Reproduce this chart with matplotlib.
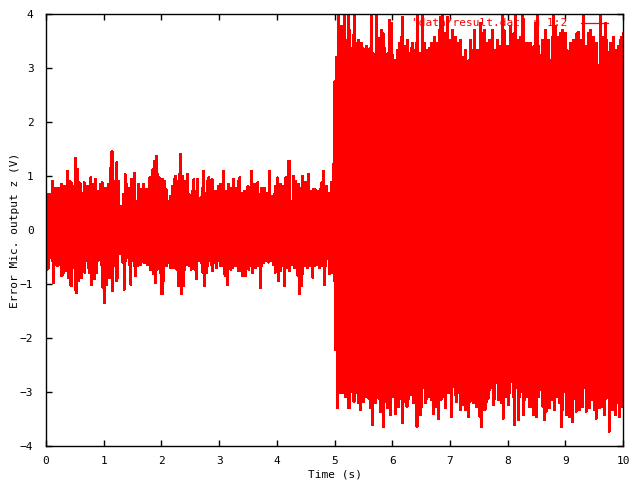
import numpy as np
import matplotlib
matplotlib.use('Agg')
import matplotlib.pyplot as plt

# envelope of the signal (volts), before the step at t = 5 s
upper_before = [0.66,0.66,0.66,0.66,0.91,0.78,0.78,0.78,0.78,0.85,0.75,0.81,0.72,1.09,0.91,0.88,0.81,0.78,1.34,1.12,
                0.88,0.85,0.69,0.88,0.72,0.81,0.72,0.97,0.66,0.85,0.94,0.72,0.60,0.85,0.88,0.66,0.78,0.72,0.85,1.15,
                1.46,0.85,0.91,1.25,0.91,0.44,0.41,0.66,1.03,0.85,0.78,0.75,0.94,0.66,1.06,0.54,0.85,0.72,0.75,0.85,
                0.35,0.75,0.57,0.97,0.60,1.12,1.28,1.37,1.03,0.97,0.72,0.94,0.91,0.75,0.54,0.51,0.63,0.81,0.94,1.00,
                0.91,1.03,1.40,1.00,0.69,0.91,1.03,0.66,0.63,0.72,0.94,0.72,0.94,0.51,0.60,0.78,1.09,0.69,0.91,0.97,
                0.78,0.94,0.51,0.72,0.57,0.81,0.85,0.69,1.09,0.72,0.60,0.85,0.63,0.78,0.94,0.60,0.78,0.91,0.97,0.69,
                0.51,0.72,0.69,0.81,0.66,1.09,0.69,0.85,0.85,0.88,0.66,0.78,0.72,0.78,0.69,0.48,1.09,0.63,0.57,0.66,
                0.81,0.97,0.66,0.85,0.81,0.54,0.97,0.78,1.28,0.32,0.54,1.00,0.91,0.78,0.85,0.78,1.00,0.57,0.88,0.72,
                1.03,0.72,0.54,0.75,0.75,0.63,0.72,0.75,0.88,1.09,0.72,0.81,0.69,0.63,0.88,1.22]
lower_before = [-0.73,-0.70,-0.51,-0.57,-0.98,-0.64,-0.67,-0.64,-0.48,-0.85,-0.79,-0.70,-0.76,-0.88,-1.01,-1.04,-0.70,-1.10,-1.16,-0.94,
                -0.76,-0.88,-0.64,-0.79,-0.57,-0.70,-0.79,-1.01,-0.70,-0.91,-0.79,-0.57,-0.54,-0.64,-1.07,-1.35,-1.01,-0.73,-0.88,-0.82,
                -1.13,-0.67,-0.94,-0.88,-0.45,-0.36,-0.60,-1.10,-0.57,-0.51,-0.64,-1.01,-0.57,-0.67,-0.85,-0.67,-0.51,-0.64,-0.48,-0.60,
                -0.60,-0.64,-0.45,-0.73,-0.51,-0.82,-0.98,-0.73,-0.70,-0.79,-1.19,-0.94,-0.54,-0.67,-0.60,-0.70,-0.67,-0.70,-0.67,-0.73,
                -1.04,-0.88,-1.19,-1.04,-0.73,-0.64,-0.54,-0.67,-0.73,-0.64,-0.73,-0.91,-0.54,-0.57,-0.60,-0.79,-1.04,-0.79,-0.67,-0.57,
                -0.64,-0.76,-0.60,-0.70,-0.54,-0.57,-0.67,-0.48,-0.82,-0.85,-1.01,-0.60,-0.73,-0.70,-0.60,-0.67,-0.64,-0.76,-0.57,-0.85,
                -0.64,-0.85,-0.54,-0.73,-0.67,-0.79,-0.60,-0.70,-0.64,-0.67,-1.07,-0.67,-0.60,-0.57,-0.54,-0.60,-0.51,-0.57,-0.64,-0.79,
                -0.76,-0.94,-0.76,-0.64,-0.67,-1.04,-0.70,-0.57,-0.76,-0.64,-0.51,-0.70,-0.70,-0.85,-1.19,-1.04,-0.82,-0.67,-0.54,-0.70,
                -0.67,-0.60,-0.88,-0.67,-0.51,-0.64,-0.70,-0.67,-0.60,-1.01,-0.67,-0.54,-0.82,-0.70,-0.79,-0.94]

# after the step (t = 5..10 s), values above 4 are clipped by the axis
upper_after = [2.75,
               3.21,4.1,3.21,3.77,3.46,4.1,3.52,4.1,3.70,3.36,3.61,4.1,3.46,3.52,3.36,3.46,3.36,3.30,3.40,2.96,
               3.36,4.1,3.27,2.96,4.1,3.40,3.55,3.70,3.64,3.36,3.21,3.27,3.89,3.83,3.24,3.15,3.12,3.33,3.46,3.58,
               3.95,3.40,2.99,3.52,3.27,3.36,3.46,3.33,3.46,4.1,3.27,3.09,4.1,3.46,2.96,3.33,3.36,
               3.46,3.27,3.58,3.18,3.46,3.70,3.95,4.1,3.64,3.46,3.95,3.27,3.52,3.70,3.40,3.58,3.46,3.15,3.52,3.21,
               2.90,3.33,3.12,3.15,3.52,3.33,3.70,3.12,3.33,3.21,3.83,3.64,3.70,3.15,3.46,3.52,3.27,3.70,3.33,3.21,
               3.52,3.15,3.40,4.1,3.70,3.27,3.40,3.09,3.77,3.58,3.64,4.1,3.27,3.52,3.58,4.1,3.89,3.46,3.15,3.46,
               3.46,3.06,3.40,3.83,4.1,3.40,3.24,3.52,3.46,3.70,3.40,3.52,3.15,3.58,4.1,3.77,3.27,3.58,3.64,3.70,
               3.58,3.64,3.33,3.30,3.46,3.27,3.52,3.15,3.64,3.67,3.52,3.30,4.1,3.40,3.27,3.64,3.70,3.52,3.58,3.46,
               3.46,3.06,4.1,3.46,3.58,3.83,3.52,3.30,3.46,2.93,3.58,3.33,3.18,3.40,3.52,3.58,3.64]
lower_after = [-2.22,
               -3.30,-2.56,-3.02,-2.90,-3.02,-3.09,-2.96,-3.30,-2.99,-2.96,-3.18,-3.02,-2.93,-3.21,-3.33,-3.09,-3.18,-3.09,-2.93,-3.12,
               -3.30,-3.61,-2.93,-3.21,-3.09,-3.12,-3.36,-3.33,-3.64,-3.18,-3.30,-3.09,-3.43,-3.09,-2.96,-3.40,-3.21,-3.27,-3.12,-3.58,
               -3.18,-3.12,-3.27,-3.12,-3.06,-2.84,-3.21,-3.15,-3.64,-3.09,-3.43,-3.27,-2.93,-3.21,-3.12,-3.09,-2.96,
               -3.15,-3.40,-3.27,-2.93,-3.49,-3.15,-3.12,-3.09,-3.30,-2.90,-3.02,-2.93,-3.46,-2.90,-3.06,-3.18,-3.02,-3.33,-3.18,-3.24,
               -3.33,-3.09,-3.46,-3.18,-3.02,-3.21,-3.12,-3.27,-3.15,-3.46,-3.64,-3.09,-3.33,-3.18,-3.12,-2.96,-2.93,-3.24,-3.12,-2.84,
               -3.15,-3.12,-3.21,-3.49,-2.90,-3.09,-3.24,-3.02,-2.81,-3.09,-3.61,-2.93,-3.52,-3.09,-2.99,-3.43,-3.15,-3.09,-2.99,-3.27,
               -3.27,-3.43,-3.12,-3.46,-3.09,-2.96,-2.90,-3.27,-3.52,-3.36,-2.90,-3.30,-3.12,-3.15,-3.33,-3.09,-2.99,-3.21,-3.64,-3.33,
               -2.99,-3.43,-3.18,-3.46,-3.24,-3.55,-3.12,-3.36,-2.96,-3.33,-3.24,-3.27,-2.93,-3.36,-3.15,-3.30,-3.15,-3.09,-3.33,-3.49,
               -3.12,-3.30,-3.18,-3.27,-3.43,-3.12,-2.90,-3.73,-2.96,-3.33,-3.18,-3.43,-3.21,-3.46,-3.18,-3.27,-3.40]

xticks = [0, 1, 2, 3, 4, 5, 6, 7, 8, 9, 10]
yticks = [-4, -3, -2, -1, 0, 1, 2, 3, 4]

# sample times: each envelope pair is one sample, drawn as up/down stroke
t1 = np.linspace(0, 5, len(upper_before), endpoint=False)
t2 = np.linspace(5, 10, len(upper_after))
t = np.concatenate([t1, t2])
up = np.array(upper_before + upper_after)
lo = np.array(lower_before + lower_after)
dt = t[1] - t[0]
xs = np.column_stack([t, t + dt / 2]).ravel()
ys = np.column_stack([up, lo]).ravel()

plt.rcParams['font.family'] = 'DejaVu Sans Mono'
plt.rcParams['font.size'] = 8

fig = plt.figure(figsize=(6.4, 4.8), dpi=100)
ax = fig.add_axes([46/640, 1 - 446/480, 577/640, 432/480])
ax.plot(xs, ys, color='#ff0000', lw=0.9, antialiased=False, drawstyle='steps-post',
        label='"data/result.dat" u 1:2')

ax.set_xlim(0, 10)
ax.set_ylim(-4, 4)
ax.set_xticks(xticks)
ax.set_yticks(yticks)
ax.tick_params(direction='in', length=4, width=1, top=True, right=True, pad=7)
ax.tick_params(axis='y', pad=9)
for s in ax.spines.values():
    s.set_linewidth(1)
ax.set_xlabel('Time (s)', labelpad=3)
ax.set_ylabel('Error Mic. output z (V)', labelpad=0)

leg = ax.legend(loc='upper right', bbox_to_anchor=(0.981, 1.0), frameon=False, markerfirst=False,
                handlelength=2.4, labelcolor='#ff0000', borderaxespad=0, handletextpad=1.2)

fig.savefig('out.png', dpi=100)
